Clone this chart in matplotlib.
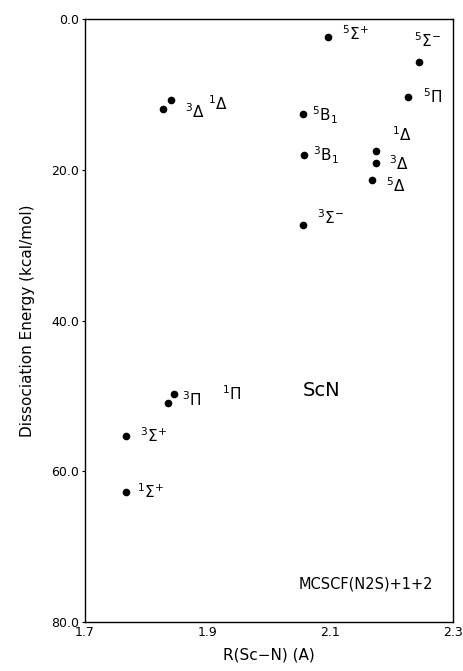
import matplotlib
matplotlib.use("Agg")
import matplotlib.pyplot as plt

plt.rcParams['font.family'] = ['DejaVu Sans']
plt.rcParams['mathtext.fontset'] = 'dejavusans'

# Data (bond length in Angstrom, dissociation energy in kcal/mol)
states = [r'$^{3}\Delta$', r'$^{1}\Delta$', r'$^{5}\Sigma^{+}$', r'$^{5}\Sigma^{-}$',
          r'$^{5}\Pi$', r'$^{5}\mathrm{B}_{1}$', r'$^{3}\mathrm{B}_{1}$', r'$^{1}\Delta$',
          r'$^{3}\Delta$', r'$^{5}\Delta$', r'$^{3}\Sigma^{-}$', r'$^{3}\Pi$',
          r'$^{1}\Pi$', r'$^{3}\Sigma^{+}$', r'$^{1}\Sigma^{+}$']
r_scn = [1.827, 1.840, 2.096, 2.245, 2.227, 2.055, 2.057, 2.175,
         2.175, 2.169, 2.055, 1.835, 1.845, 1.767, 1.767]
d_energy = [12.0, 10.8, 2.4, 5.7, 10.4, 12.6, 18.0, 17.5,
            19.1, 21.3, 27.3, 50.9, 49.7, 55.3, 62.7]

xticks = [1.7, 1.9, 2.1, 2.3]
xticklabels = ['1.7', '1.9', '2.1', '2.3']
yticks = [0, 20, 40, 60, 80]
yticklabels = ['0.0', '20.0', '40.0', '60.0', '80.0']

# label offsets in pixels (dx right, dy down)
offsets = [(22, 2), (37, 3), (14, -3), (-5, -21), (15, -1), (9, 1), (9, 1), (16, -16),
           (13, 1), (14, 6), (14, -7), (14, -3), (48, 0), (14, 0), (11, 0)]

W, H, DPI = 464, 671, 100
fig = plt.figure(figsize=(W / DPI, H / DPI), dpi=DPI)
ax = fig.add_axes([85 / W, 1 - 622 / H, (452.7 - 85) / W, (622 - 19) / H])

ax.plot(r_scn, d_energy, 'o', color='black', markersize=4.5, linestyle='none')

for s, x, y, (dx, dy) in zip(states, r_scn, d_energy, offsets):
    ax.annotate(s, (x, y), xytext=(dx * 0.72, -dy * 0.72), textcoords='offset points',
                ha='left', va='center', fontsize=11)

ax.set_xlim(1.7, 2.3)
ax.set_ylim(80, 0)
ax.set_xticks(xticks)
ax.set_xticklabels(xticklabels)
ax.set_yticks(yticks)
ax.set_yticklabels(yticklabels)
ax.tick_params(axis='both', labelsize=9, length=2, width=0.8, direction='out', pad=2)
ax.tick_params(axis='x', length=0, pad=3)
for sp in ax.spines.values():
    sp.set_linewidth(1.0)

ax.set_xlabel('R(Sc\u2212N) (A)', fontsize=11, labelpad=6)
ax.set_ylabel('Dissociation Energy (kcal/mol)', fontsize=11, labelpad=12)

ax.text(2.056, 49.3, 'ScN', fontsize=14, color='black', ha='left', va='center')
ax.text(2.268, 74.9, 'MCSCF(N2S)+1+2', fontsize=10.5, ha='right', va='center')

fig.savefig('out.png', dpi=DPI)
